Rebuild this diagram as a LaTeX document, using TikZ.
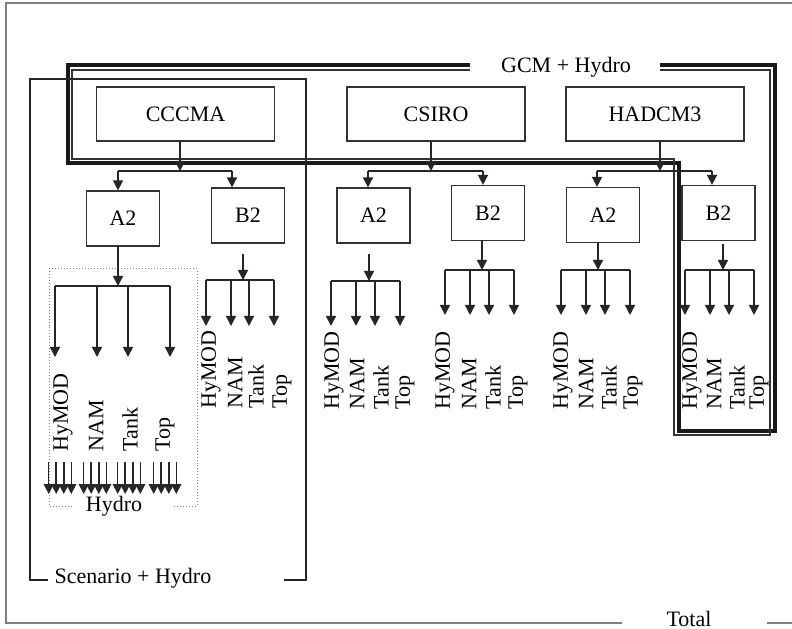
\documentclass[tikz,border=0pt]{standalone}
\usepackage{fontspec}
\setmainfont{Liberation Serif}
\usetikzlibrary{arrows.meta}
\newcommand\mkfan[8]{%
  \coordinate (#1s) at (#2,#3);
  \coordinate (#1j) at (#2,#4);
  \draw[arr] (#1s) -- (#1j);
  \foreach \ii/\xx/\lx/\tx in {#6} {
    \coordinate (#1b\ii) at (\xx,#4);
    \coordinate (#1t\ii) at (\xx,#5);
    \draw[arr] (#1b\ii) -- (#1t\ii);
    \node[lab] (#1l\ii) at (\lx,#7) {\tx};
  }
  \draw[ln] (#1b1) -- (#1b4);
}
\begin{document}
\begin{tikzpicture}[x=0.5bp,y=-0.5bp,
  txt/.style={font=\fontsize{11bp}{13bp}\selectfont, inner sep=0pt},
  mbox/.style={txt, draw=black!80, line width=0.6bp, minimum width=89bp, minimum height=27bp},
  sbox/.style={txt, draw=black!80, line width=0.6bp, minimum width=36.5bp, minimum height=27.5bp},
  lab/.style={txt, rotate=90, anchor=west},
  ln/.style={line width=0.75bp, draw=black!85},
  arr/.style={ln, -{Triangle[width=5bp,length=5bp]}},
  thick frame/.style={line width=2bp, black!90},
  thin frame/.style={line width=0.6bp, black!80},
]
\useasboundingbox (0,0) rectangle (792,629);

% outer "Total" frame
\node[txt] (total) at (689,619) {Total};
\draw[gray, line width=0.6bp] (792,3) -- (6,3) -- (6,623) -- (622,623);
\draw[gray, line width=0.6bp] (767,623) -- (792,623);

% GCM + Hydro frame
\node[txt] (gcm) at (566,67) {GCM + Hydro};
\draw[thick frame] (470,65) -- (68,65) -- (68,163) -- (679,163) -- (679,431) -- (775,431) -- (775,65) -- (660,65);
\draw[thin frame] (470,70) -- (72,70) -- (72,159) -- (674,159) -- (674,435) -- (770,435) -- (770,70) -- (660,70);

% Scenario + Hydro frame
\node[txt] (scen) at (133,578) {Scenario + Hydro};
\draw[line width=1bp, black!85] (48,580) -- (30,580) -- (30,79) -- (306,79) -- (306,580) -- (284,580);

% Hydro dotted frame
\node[txt] (hydro) at (114,506) {Hydro};
\draw[gray, line width=0.5bp, densely dotted] (72,506) -- (49,506) -- (49,269) -- (197,269) -- (197,506) -- (173,506);

% model boxes
\node[mbox] (cccma) at (185.5,114) {CCCMA};
\node[mbox] (csiro) at (436,114) {CSIRO};
\node[mbox] (hadcm) at (655,114) {HADCM3};

% scenario boxes
\node[sbox] (a2c) at (123,218.5) {A2};
\node[sbox] (b2c) at (248,215.5) {B2};
\node[sbox] (a2s) at (373.5,215.5) {A2};
\node[sbox] (b2s) at (488,213) {B2};
\node[sbox] (a2h) at (603,215) {A2};
\node[sbox] (b2h) at (718.5,213) {B2};

% model -> scenarios
\coordinate (cj) at (180,171); \coordinate (cl) at (118,171); \coordinate (cr) at (232,171);
\draw[arr] (cccma.south -| cj) -- (cj);
\draw[ln] (cl) -- (cr);
\draw[arr] (cl) -- (cl |- a2c.north);
\draw[arr] (cr) -- (cr |- b2c.north);

\coordinate (sj) at (431,171); \coordinate (sl) at (368,171); \coordinate (sr) at (483,171);
\draw[arr] (csiro.south -| sj) -- (sj);
\draw[ln] (sl) -- (sr);
\draw[arr] (sl) -- (sl |- a2s.north);
\draw[arr] (sr) -- (sr |- b2s.north);

\coordinate (hj) at (660,171); \coordinate (hl) at (597,171); \coordinate (hr) at (712,171);
\draw[arr] (hadcm.south -| hj) -- (hj);
\draw[ln] (hl) -- (hr);
\draw[arr] (hl) -- (hl |- a2h.north);
\draw[arr] (hr) -- (hr |- b2h.north);

% fans
\mkfan{fa}{118}{246}{286}{357}{1/55/63/HyMOD, 2/97/96/NAM, 3/128/130/Tank, 4/170/165/Top}{452}{}
\mkfan{fb}{243}{254}{280}{326}{1/206/211/HyMOD, 2/231/235/NAM, 3/249/256/Tank, 4/274/282/Top}{409}{}
\mkfan{fc}{369}{254}{281}{326}{1/331/334/HyMOD, 2/356/357/NAM, 3/375/381/Tank, 4/400/405/Top}{410}{}
\mkfan{fd}{482}{240}{270}{315}{1/445/445/HyMOD, 2/470/469/NAM, 3/489/493/Tank, 4/514/518/Top}{410}{}
\mkfan{fe}{598}{242}{270}{315}{1/561/563/HyMOD, 2/586/586/NAM, 3/605/609/Tank, 4/630/633/Top}{410}{}
\mkfan{ff}{723}{244}{270}{315}{1/685/692/HyMOD, 2/710/714/NAM, 3/729/737/Tank, 4/754/759/Top}{410}{}

% hydro small arrows
\foreach \g [count=\gi] in {60,95,129,165} {
  \foreach \d [count=\di] in {-11.3,-3.8,3.8,11.3} {
    \coordinate (hs\gi\di) at ({\g+\d},462);
    \coordinate (ht\gi\di) at ({\g+\d},494);
    \draw[arr] (hs\gi\di) -- (ht\gi\di);
  }
}
\end{tikzpicture}
\end{document}
